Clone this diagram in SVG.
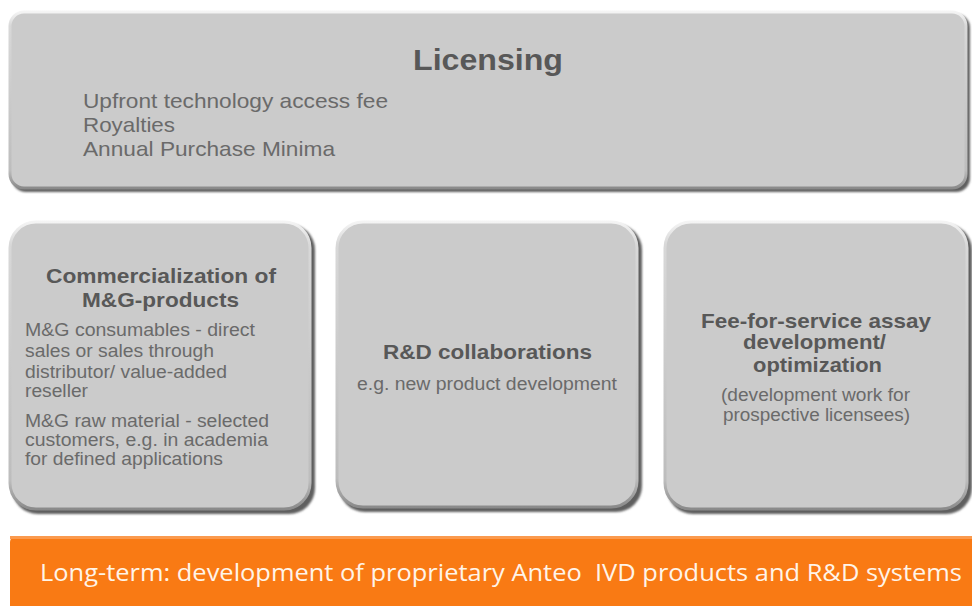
<svg xmlns="http://www.w3.org/2000/svg" width="972" height="606" viewBox="0 0 972 606">
  <defs>
    <linearGradient id="rim" x1="0" y1="0" x2="0" y2="1">
      <stop offset="0" stop-color="#f4f4f4"/>
      <stop offset="0.08" stop-color="#d8d8d8"/>
      <stop offset="0.9" stop-color="#bdbdbd"/>
      <stop offset="1" stop-color="#8a8a8a"/>
    </linearGradient>
    <filter id="soft" x="-5%" y="-5%" width="110%" height="110%">
      <feGaussianBlur stdDeviation="1.2"/>
    </filter>
  </defs>
  <style>
    .shadow { fill: #5e5e5e; filter: url(#soft); }
    .panel { fill: #cbcbcb; stroke: url(#rim); stroke-width: 3; }
    .title { font-family: "Liberation Sans", Arial, sans-serif; font-weight: bold; fill: #585858; font-size: 20.5px; }
    .body { font-family: "Liberation Sans", Arial, sans-serif; fill: #6a6a6a; font-size: 17.5px; }
    .lead { font-size: 21px; }
    .banner { font-family: "Open Sans", "Liberation Sans", sans-serif; fill: #fff4e8; font-size: 24px; }
  </style>
  <rect width="972" height="606" fill="#ffffff"/>

  <g id="licensing">
    <rect class="shadow" x="12" y="14" width="958" height="178" rx="14"/>
    <rect class="panel" x="10" y="12" width="956" height="176" rx="14"/>
    <text class="title" x="413" y="70" style="font-size:30px" textLength="150" lengthAdjust="spacingAndGlyphs">Licensing</text>
    <text class="body lead" x="83" y="108" textLength="305" lengthAdjust="spacingAndGlyphs">Upfront technology access fee</text>
    <text class="body lead" x="83" y="132" textLength="92" lengthAdjust="spacingAndGlyphs">Royalties</text>
    <text class="body lead" x="83" y="156" textLength="252" lengthAdjust="spacingAndGlyphs">Annual Purchase Minima</text>
  </g>

  <g id="commercialization">
    <rect class="shadow" x="12" y="224" width="303" height="290" rx="26"/>
    <rect class="panel" x="10" y="222" width="300" height="287" rx="26"/>
    <text class="title" x="46" y="283" textLength="230" lengthAdjust="spacingAndGlyphs">Commercialization of</text>
    <text class="title" x="82" y="307" textLength="157" lengthAdjust="spacingAndGlyphs">M&amp;G-products</text>
    <text class="body" x="25" y="336" textLength="230" lengthAdjust="spacingAndGlyphs">M&amp;G consumables - direct</text>
    <text class="body" x="25" y="357" textLength="189" lengthAdjust="spacingAndGlyphs">sales or sales through</text>
    <text class="body" x="25" y="378" textLength="202" lengthAdjust="spacingAndGlyphs">distributor/ value-added</text>
    <text class="body" x="25" y="397" textLength="63" lengthAdjust="spacingAndGlyphs">reseller</text>
    <text class="body" x="25" y="427" textLength="244" lengthAdjust="spacingAndGlyphs">M&amp;G raw material - selected</text>
    <text class="body" x="25" y="446" textLength="243" lengthAdjust="spacingAndGlyphs">customers, e.g. in academia</text>
    <text class="body" x="25" y="465" textLength="198" lengthAdjust="spacingAndGlyphs">for defined applications</text>
  </g>

  <g id="rd-collaborations">
    <rect class="shadow" x="339" y="224" width="303" height="288" rx="26"/>
    <rect class="panel" x="337" y="222" width="300" height="285" rx="26"/>
    <text class="title" x="383" y="359" textLength="209" lengthAdjust="spacingAndGlyphs">R&amp;D collaborations</text>
    <text class="body" x="357" y="390" textLength="260" lengthAdjust="spacingAndGlyphs">e.g. new product development</text>
  </g>

  <g id="fee-for-service">
    <rect class="shadow" x="667" y="224" width="305" height="290" rx="26"/>
    <rect class="panel" x="665" y="222" width="302" height="287" rx="26"/>
    <text class="title" x="701" y="328" textLength="230" lengthAdjust="spacingAndGlyphs">Fee-for-service assay</text>
    <text class="title" x="743" y="349" textLength="143" lengthAdjust="spacingAndGlyphs">development/</text>
    <text class="title" x="753" y="372" textLength="129" lengthAdjust="spacingAndGlyphs">optimization</text>
    <text class="body" x="721" y="401" textLength="189" lengthAdjust="spacingAndGlyphs">(development work for</text>
    <text class="body" x="723" y="421" textLength="187" lengthAdjust="spacingAndGlyphs">prospective licensees)</text>
  </g>

  <g id="long-term">
    <rect x="10" y="536" width="972" height="80" rx="6" fill="#f97a14"/>
    <rect x="10" y="536" width="972" height="3" fill="#fb9a4e"/>
    <text class="banner" x="40" y="581" textLength="922" lengthAdjust="spacingAndGlyphs">Long-term: development of proprietary Anteo&#160; IVD products and R&amp;D systems</text>
  </g>
</svg>
